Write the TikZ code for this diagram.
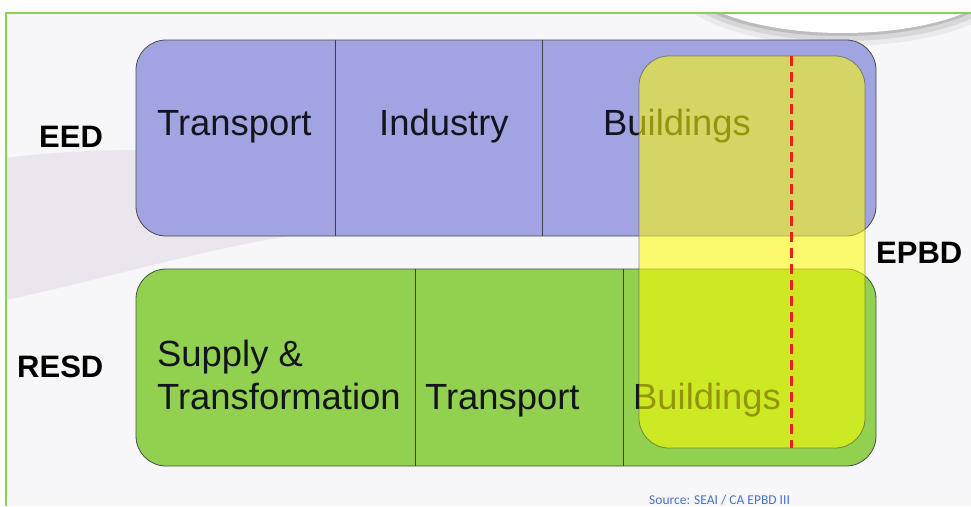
\documentclass[tikz,border=0pt]{standalone}
\usepackage{fontspec}
\setmainfont{Liberation Sans}
\newfontfamily\srcfont{Carlito}
\definecolor{bgc}{RGB}{247,246,248}
\definecolor{swooshc}{RGB}{235,230,238}
\definecolor{framec}{RGB}{140,210,80}
\definecolor{eedblue}{RGB}{161,164,224}
\definecolor{resdgreen}{RGB}{146,208,80}
\definecolor{epbdyellow}{RGB}{255,255,0}
\definecolor{redline}{RGB}{238,30,30}
\definecolor{srcblue}{RGB}{70,115,195}
\definecolor{txt}{RGB}{20,20,30}
\begin{document}
\begin{tikzpicture}[x=1pt,y=-1pt,
  box/.style={draw=black!70, line width=0.8pt, rounded corners=30pt, inner sep=0pt},
  divider/.style={draw=black!75, line width=0.8pt},
  lbl/.style={font=\fontsize{36.4}{40}\selectfont, text=txt, anchor=base west, inner sep=0pt},
  act/.style={font=\bfseries\fontsize{31}{34}\selectfont, text=black, anchor=base west, inner sep=0pt},
  src/.style={font=\srcfont\fontsize{13.5}{15}\selectfont, text=srcblue, anchor=base west, inner sep=0pt}]
\useasboundingbox (0,0) rectangle (971,506);
\fill[white] (0,0) rectangle (971,506);
\fill[bgc] (6,13) rectangle (971,506);
% background swoosh
\fill[swooshc] (6,158) .. controls (50,152) and (100,150) .. (140,150) -- (290,236)
  .. controls (200,250) and (100,280) .. (6,300) -- cycle;
% white blob with shadow
\fill[black, opacity=0.05] (843,-19) ellipse [x radius=172pt, y radius=65pt];
\fill[black, opacity=0.08] (843,-22) ellipse [x radius=168pt, y radius=63pt];
\fill[black, opacity=0.12] (842,-25) ellipse [x radius=165pt, y radius=61pt];
\fill[white] (843,-27) ellipse [x radius=163pt, y radius=60pt];
\fill[white] (0,0) rectangle (971,12);
% frame
\draw[framec, line width=2pt] (6,506) -- (6,13) -- (971,13);
% boxes
\node[box, fill=eedblue, minimum width=740pt, minimum height=196pt] (eed) at (506,138) {};
\node[box, fill=resdgreen, minimum width=740pt, minimum height=197pt] (resd) at (506,367.5) {};
\coordinate (d1) at (335,0);
\coordinate (d2) at (542,0);
\coordinate (d3) at (415,0);
\coordinate (d4) at (623,0);
\draw[divider] (eed.north -| d1) -- (eed.south -| d1);
\draw[divider] (eed.north -| d2) -- (eed.south -| d2);
\draw[divider] (resd.north -| d3) -- (resd.south -| d3);
\draw[divider] (resd.north -| d4) -- (resd.south -| d4);
% texts in boxes
\node[lbl] (t1) at (157,135) {Transport};
\node[lbl] (t2) at (379,135) {Industry};
\node[lbl] (t3) at (603,135) {Buildings};
\node[lbl] (t4) at (157,366) {Supply \&};
\node[lbl] (t5) at (157,409) {Transformation};
\node[lbl] (t6) at (425,409) {Transport};
\node[lbl] (t7) at (633,409) {Buildings};
% EPBD overlay
\node[box, fill=epbdyellow, fill opacity=0.55, draw opacity=0.6, minimum width=226pt, minimum height=392pt] (epbd) at (752,252) {};
\coordinate (r) at (791,0);
\draw[redline, line width=3pt, dash pattern=on 10pt off 6pt] (epbd.north -| r) -- (epbd.south -| r);
% side labels
\node[act] (l1) at (39,147) {EED};
\node[act] (l2) at (17,377) {RESD};
\node[act] (l3) at (876,263) {EPBD};
\node[src] (s) at (649,504) {Source: SEAI / CA EPBD III};
\end{tikzpicture}
\end{document}
